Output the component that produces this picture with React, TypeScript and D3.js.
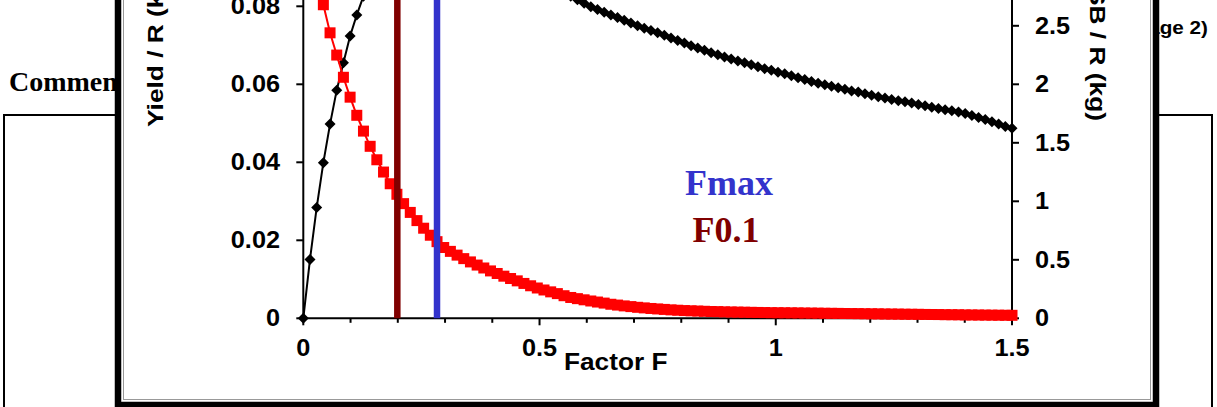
import React from "react";
import * as d3 from "d3";

// yield per recruit (left axis, kg) at each factor F step
const yieldPerRecruit = [
  0, 0.0151, 0.0284, 0.0399, 0.0498, 0.0585, 0.0655, 0.0724, 0.0778, 0.0826,
  0.0866, 0.0899, 0.0926, 0.0948, 0.0965, 0.0978, 0.0987, 0.0993, 0.0997, 0.0999,
  0.1, 0.0999, 0.0996, 0.0992, 0.0986, 0.0979, 0.0971, 0.0962, 0.0952, 0.0942,
  0.0931, 0.092, 0.0909, 0.0898, 0.0887, 0.0876, 0.0865, 0.0855, 0.0845, 0.0835,
  0.0826, 0.0817, 0.0808, 0.0799, 0.0792, 0.0785, 0.0778, 0.0771, 0.0764, 0.0757,
  0.075, 0.0744, 0.0738, 0.0732, 0.0726, 0.0719, 0.0712, 0.0706, 0.0699, 0.0693,
  0.0687, 0.0681, 0.0676, 0.067, 0.0665, 0.066, 0.0655, 0.065, 0.0645, 0.064,
  0.0636, 0.0631, 0.0627, 0.0622, 0.0617, 0.0612, 0.0607, 0.0603, 0.0599, 0.0595,
  0.0591, 0.0587, 0.0583, 0.058, 0.0576, 0.0572, 0.0568, 0.0565, 0.0561, 0.0558,
  0.0555, 0.0552, 0.0548, 0.0545, 0.0541, 0.0538, 0.0535, 0.0532, 0.0529, 0.0525,
  0.052, 0.0515, 0.051, 0.0504, 0.0498, 0.0492, 0.0487,
];

// SSB per recruit (right axis, kg)
const ssbPerRecruit = [
  3.55, 3.22, 2.93, 2.68, 2.44, 2.25, 2.06, 1.89, 1.735, 1.6,
  1.47, 1.355, 1.25, 1.15, 1.06, 0.98, 0.905, 0.835, 0.77, 0.71,
  0.655, 0.605, 0.572, 0.54, 0.51, 0.482, 0.455, 0.43, 0.405, 0.383,
  0.36, 0.34, 0.32, 0.298, 0.278, 0.259, 0.242, 0.226, 0.211, 0.193,
  0.178, 0.168, 0.158, 0.148, 0.139, 0.13, 0.12, 0.113, 0.106, 0.1,
  0.094, 0.089, 0.084, 0.08, 0.076, 0.072, 0.069, 0.066, 0.064, 0.062,
  0.06, 0.058, 0.057, 0.055, 0.054, 0.053, 0.052, 0.051, 0.05, 0.049,
  0.048, 0.0475, 0.047, 0.0465, 0.046, 0.045, 0.0445, 0.044, 0.043, 0.0425,
  0.042, 0.041, 0.0405, 0.04, 0.039, 0.0385, 0.038, 0.037, 0.0365, 0.036,
  0.035, 0.0345, 0.034, 0.033, 0.0325, 0.032, 0.031, 0.0305, 0.03, 0.029,
  0.0285, 0.028, 0.0275, 0.027, 0.0265, 0.026, 0.0255,
];

const fStep = 1.5 / 106;
const factorF = yieldPerRecruit.map((_, i) => i * fStep);

const refLines = [
  { name: "F0.1", f: 0.199, color: "#800000" },
  { name: "Fmax", f: 0.283, color: "#3333CC" },
];

const xLabels = [0, 0.5, 1, 1.5];

const sans = "'Liberation Sans', Arial, sans-serif";
const serif = "'Liberation Serif', 'Times New Roman', serif";

// wide-looking bold text (the original labels are stretched a bit)
const WText = ({ x, y, rot = 0, sx = 1.1, size = 23, anchor = "start", fill = "#000", family = sans, children }: any) => (
  <text
    transform={`translate(${x},${y}) rotate(${rot}) scale(${sx},1)`}
    textAnchor={anchor}
    fontSize={size}
    fontWeight="bold"
    fontFamily={family}
    fill={fill}
  >
    {children}
  </text>
);

const App = () => {
  const x = d3.scaleLinear().domain([0, 1.5]).range([303.3, 1012]);
  const yL = d3.scaleLinear().domain([0, 0.12]).range([318.3, -149.7]);
  const yR = d3.scaleLinear().domain([0, 4]).range([318.3, -149.7]);
  const fmt = d3.format("~g");

  const yieldLine = d3.line<number>().x((_, i) => x(factorF[i])).y((d) => yL(d))(yieldPerRecruit);
  const ssbLine = d3.line<number>().x((_, i) => x(factorF[i])).y((d) => yR(d))(ssbPerRecruit);

  const x0 = x(0);
  const x1 = x(1.5);
  const yb = yL(0);
  const top = yL(0.12);

  return (
    <svg
      width={1217}
      height={407}
      style={{ position: "absolute", left: 0, top: 0, background: "#fff" }}
      xmlns="http://www.w3.org/2000/svg"
    >
      <rect width={1217} height={407} fill="#fff" />

      {/* page content behind the chart */}
      <text x={9} y={91} fontFamily={serif} fontWeight="bold" fontSize={28}>Comments</text>
      <WText x={1208} y={34} size={18} sx={1.15} anchor="end">(page 2)</WText>
      <rect x={4} y={115} width={1208} height={320} fill="none" stroke="#000" strokeWidth={2} />

      {/* chart area */}
      <rect x={118} y={-60} width={1038} height={465} fill="#fff" stroke="#000" strokeWidth={6.5} />
      <rect x={123.5} y={-60} width={1027} height={459.5} fill="none" stroke="#999" strokeWidth={1} />

      {/* axes */}
      <g stroke="#000" strokeWidth={2}>
        <line x1={x0} x2={x0} y1={yb} y2={top} />
        <line x1={x1} x2={x1} y1={yb} y2={top} />
        <line x1={x0} x2={x1} y1={yb} y2={yb} />
        {yL.ticks(6).map((t) => (
          <line key={"l" + t} x1={x0 - 7} x2={x0} y1={yL(t)} y2={yL(t)} />
        ))}
        {yR.ticks(8).map((t) => (
          <line key={"r" + t} x1={x1} x2={x1 + 7} y1={yR(t)} y2={yR(t)} />
        ))}
        {x.ticks(15).map((t, i) => (
          <line key={"x" + t} x1={x(t)} x2={x(t)} y1={yb} y2={yb + (i % 5 === 0 ? 7 : 4.5)} />
        ))}
      </g>

      {/* yield per recruit */}
      <path d={yieldLine || ""} fill="none" stroke="#000" strokeWidth={2} />
      {yieldPerRecruit.map((d, i) => {
        const cx = x(factorF[i]);
        const cy = yL(d);
        return <path key={"d" + i} d={`M${cx},${cy - 5.5}L${cx + 5.5},${cy}L${cx},${cy + 5.5}L${cx - 5.5},${cy}Z`} fill="#000" />;
      })}

      {/* SSB per recruit */}
      <path d={ssbLine || ""} fill="none" stroke="#f00" strokeWidth={2} />
      {ssbPerRecruit.map((d, i) => (
        <rect key={"s" + i} x={x(factorF[i]) - 5.5} y={yR(d) - 5.5} width={11} height={11} fill="#f00" />
      ))}

      {/* reference F lines */}
      {refLines.map((r) => (
        <line key={r.name} x1={x(r.f)} x2={x(r.f)} y1={yb} y2={top} stroke={r.color} strokeWidth={6.5} />
      ))}

      {/* tick labels */}
      {yL.ticks(6).map((t) => (
        <WText key={"lt" + t} x={280} y={yL(t) + 8} anchor="end">{fmt(t)}</WText>
      ))}
      {yR.ticks(8).map((t) => (
        <WText key={"rt" + t} x={1035} y={yR(t) + 8}>{fmt(t)}</WText>
      ))}
      {xLabels.map((t) => (
        <WText key={"xt" + t} x={x(t)} y={356} anchor="middle">{fmt(t)}</WText>
      ))}

      {/* axis titles */}
      <WText x={564} y={369.5} size={23} sx={1.14}>Factor F</WText>
      <WText x={163} y={127} rot={-90} size={22.5} sx={1.17}>Yield / R (kg)</WText>
      <WText x={1090} y={121} rot={90} size={22.5} sx={1.17} anchor="end">SSB / R (kg)</WText>

      {/* reference labels */}
      <text x={729} y={195} textAnchor="middle" fontFamily={serif} fontWeight="bold" fontSize={36} fill="#3333CC">Fmax</text>
      <text x={726} y={242} textAnchor="middle" fontFamily={serif} fontWeight="bold" fontSize={36} fill="#800000">F0.1</text>
    </svg>
  );
};

export default App;
